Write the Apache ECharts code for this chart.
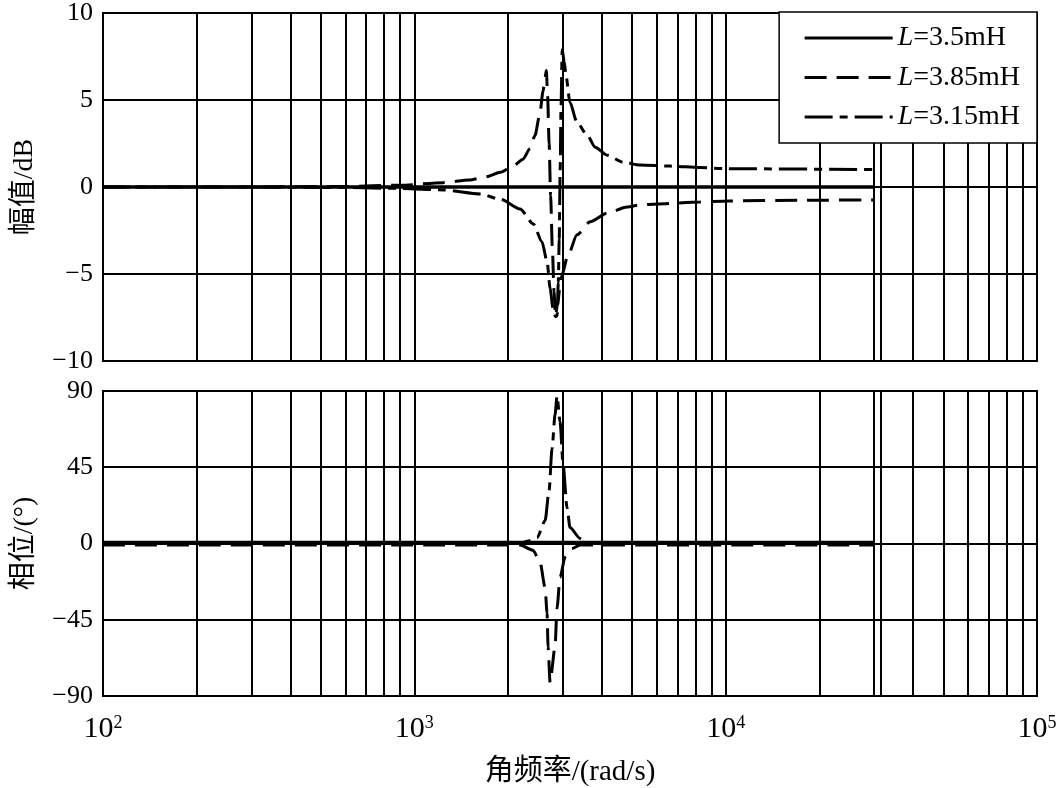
<!DOCTYPE html>
<html><head><meta charset="utf-8">
<script src="https://cdn.jsdelivr.net/npm/echarts@6/dist/echarts.min.js"></script>
<style>html,body{margin:0;padding:0;background:#fff}#c{width:1060px;height:788px}</style>
</head><body><div id="c"></div>
<script>
// ---- data ----
const seriesNames = ['L=3.5mH', 'L=3.85mH', 'L=3.15mH'];
const magTicks = [-10, -5, 0, 5, 10];
const phaseTicks = [-90, -45, 0, 45, 90];
const xTickExponents = [2, 3, 4, 5];
const minorGridFreqs = [200,300,400,500,600,700,800,900,
  2000,3000,4000,5000,6000,7000,8000,9000,
  20000,30000,31500,40000,50000,60000,70000,80000,90000];

// magnitude (dB)
const mag35Freq = [100, 30000];
const mag35Val  = [0, 0];
const mag385Freq = [100, 300, 600, 900, 1240, 1500, 1710, 1890, 2075, 2235, 2350, 2440, 2530, 2590, 2630, 2655, 2680, 2710, 2740, 2775, 2810, 2840, 2880, 2960, 3120, 3330, 3670, 4160, 4820, 5310, 6020, 8280, 10100, 17300, 30000];
const mag385Val  = [0, 0, 0.03, 0.1, 0.25, 0.4, 0.6, 0.85, 1.2, 1.6, 2.2, 2.95, 4.2, 5.5, 6.3, 6.7, 5.2, 2.5, -0.5, -3.5, -6.0, -7.4, -6.8, -5.2, -3.9, -2.75, -2.0, -1.5, -1.15, -1.03, -0.97, -0.86, -0.8, -0.76, -0.74];
const mag315Freq = [100, 300, 600, 900, 1240, 1630, 1900, 2185, 2410, 2570, 2670, 2730, 2790, 2840, 2875, 2900, 2920, 2940, 2960, 2985, 3030, 3070, 3160, 3330, 3590, 3810, 4160, 4680, 5310, 6630, 8280, 10100, 30000];
const mag315Val  = [0, 0, -0.03, -0.08, -0.17, -0.4, -0.72, -1.26, -2.12, -3.15, -4.3, -5.85, -7.0, -7.45, -7.4, -5.5, -3.0, 0.9, 4.7, 7.9, 7.2, 6.4, 4.87, 3.72, 2.98, 2.29, 1.83, 1.43, 1.26, 1.2, 1.12, 1.05, 1.0];

// phase (deg)
const ph35Freq = [100, 30000];
const ph35Val  = [0.6, 0.6];
const ph385Freq = [100, 2185, 2406, 2534, 2630, 2669, 2689, 2729, 2831, 2873, 2938, 3049, 3210, 3407, 30000];
const ph385Val  = [-0.9, -0.9, -4, -11, -26, -41, -61, -82, -61, -38, -20, -8, -3, -0.9, -0.9];
const ph315Freq = [100, 2185, 2330, 2480, 2630, 2708, 2769, 2831, 2873, 2938, 3004, 3094, 3163, 3407, 3669, 30000];
const ph315Val  = [0, 0, 1.5, 3.5, 13.5, 31, 56, 76, 87, 72, 47, 21, 9.4, 3, 0, 0];

// ---- chart ----
const zip = (f, v) => f.map((x, i) => [x, v[i]]);
const FONT = "'Liberation Serif', 'Noto Sans CJK SC', serif";
const minus = v => (v < 0 ? '\u2212' + Math.abs(v) : String(v));
const styles = [
  { type: 'solid', width: 3.5 },
  { type: [22, 10], width: 3 },
  { type: [28, 7, 8, 7], width: 3 }
];
const gridLineMark = {
  silent: true, symbol: ['none', 'none'], label: { show: false },
  lineStyle: { color: '#000', width: 2, type: 'solid' },
  emphasis: { disabled: true },
  data: minorGridFreqs.map(v => ({ xAxis: v })),
  animation: false
};
function mk(nameIdx, gi, data, withMark) {
  const s = {
    name: seriesNames[nameIdx], type: 'line', xAxisIndex: gi, yAxisIndex: gi,
    data: data, symbol: 'none', showSymbol: false,
    smooth: 0.25, smoothMonotone: 'x',
    lineStyle: Object.assign({ color: '#000' }, styles[nameIdx]),
    itemStyle: { color: '#000' },
    emphasis: { disabled: true }, animation: false, z: 3
  };
  if (withMark) s.markLine = gridLineMark;
  return s;
}
const xAxisBase = {
  type: 'log', logBase: 10, min: 100, max: 100000,
  axisTick: { show: false },
  axisLine: { lineStyle: { color: '#000', width: 2 } },
  splitLine: { show: true, lineStyle: { color: '#000', width: 2 } },
  minorSplitLine: { show: false }
};
const yAxisBase = {
  type: 'value',
  axisTick: { show: false },
  axisLine: { show: true, lineStyle: { color: '#000', width: 2 } },
  splitLine: { show: true, lineStyle: { color: '#000', width: 2 } },
  axisLabel: { color: '#000', fontFamily: FONT, fontSize: 26, margin: 10, formatter: minus },
  nameLocation: 'middle', nameGap: 64,
  nameTextStyle: { color: '#000', fontFamily: FONT, fontSize: 28 }
};
const option = {
  backgroundColor: '#fff',
  animation: false,
  grid: [
    { left: 103, right: 23, top: 12, height: 349, show: true, borderColor: '#000', borderWidth: 2 },
    { left: 103, right: 23, top: 391, height: 306, show: true, borderColor: '#000', borderWidth: 2 }
  ],
  xAxis: [
    Object.assign({}, xAxisBase, { gridIndex: 0, axisLabel: { show: false } }),
    Object.assign({}, xAxisBase, {
      gridIndex: 1,
      name: '角频率/(rad/s)', nameLocation: 'middle', nameGap: 62,
      nameTextStyle: { color: '#000', fontFamily: FONT, fontSize: 29 },
      axisLabel: {
        margin: 18,
        formatter: v => '{b|10}{s|' + Math.round(Math.log10(v)) + '}',
        rich: {
          b: { fontSize: 30, fontFamily: FONT, color: '#000' },
          s: { fontSize: 18, fontFamily: FONT, color: '#000', verticalAlign: 'top' }
        }
      }
    })
  ],
  yAxis: [
    Object.assign({}, yAxisBase, { gridIndex: 0, min: magTicks[0], max: magTicks[magTicks.length - 1], interval: 5, name: '幅值/dB' }),
    Object.assign({}, yAxisBase, { gridIndex: 1, min: phaseTicks[0], max: phaseTicks[phaseTicks.length - 1], interval: 45, name: '相位/(°)' })
  ],
  legend: {
    data: seriesNames, orient: 'vertical', right: 23, top: 12,
    backgroundColor: '#fff', borderColor: '#000', borderWidth: 1.5, borderRadius: 0,
    padding: [12, 17, 12, 24], itemWidth: 88, itemHeight: 28, itemGap: 11.5, itemTextGap: 5,
    itemStyle: { opacity: 0 },
    lineStyle: { width: 3 },
    formatter: n => '{i|L}{n|' + n.slice(1) + '}',
    textStyle: {
      color: '#000', fontFamily: FONT, fontSize: 28,
      rich: {
        i: { fontStyle: 'italic', fontFamily: FONT, fontSize: 28, color: '#000' },
        n: { fontFamily: FONT, fontSize: 28, color: '#000' }
      }
    },
    selectedMode: false, z: 10
  },
  series: [
    mk(0, 0, zip(mag35Freq, mag35Val), true),
    mk(1, 0, zip(mag385Freq, mag385Val), false),
    mk(2, 0, zip(mag315Freq, mag315Val), false),
    mk(0, 1, zip(ph35Freq, ph35Val), true),
    mk(1, 1, zip(ph385Freq, ph385Val), false),
    mk(2, 1, zip(ph315Freq, ph315Val), false)
  ]
};
const chart = echarts.init(document.getElementById('c'), null, { renderer: 'canvas' });
chart.setOption(option);
</script></body></html>
